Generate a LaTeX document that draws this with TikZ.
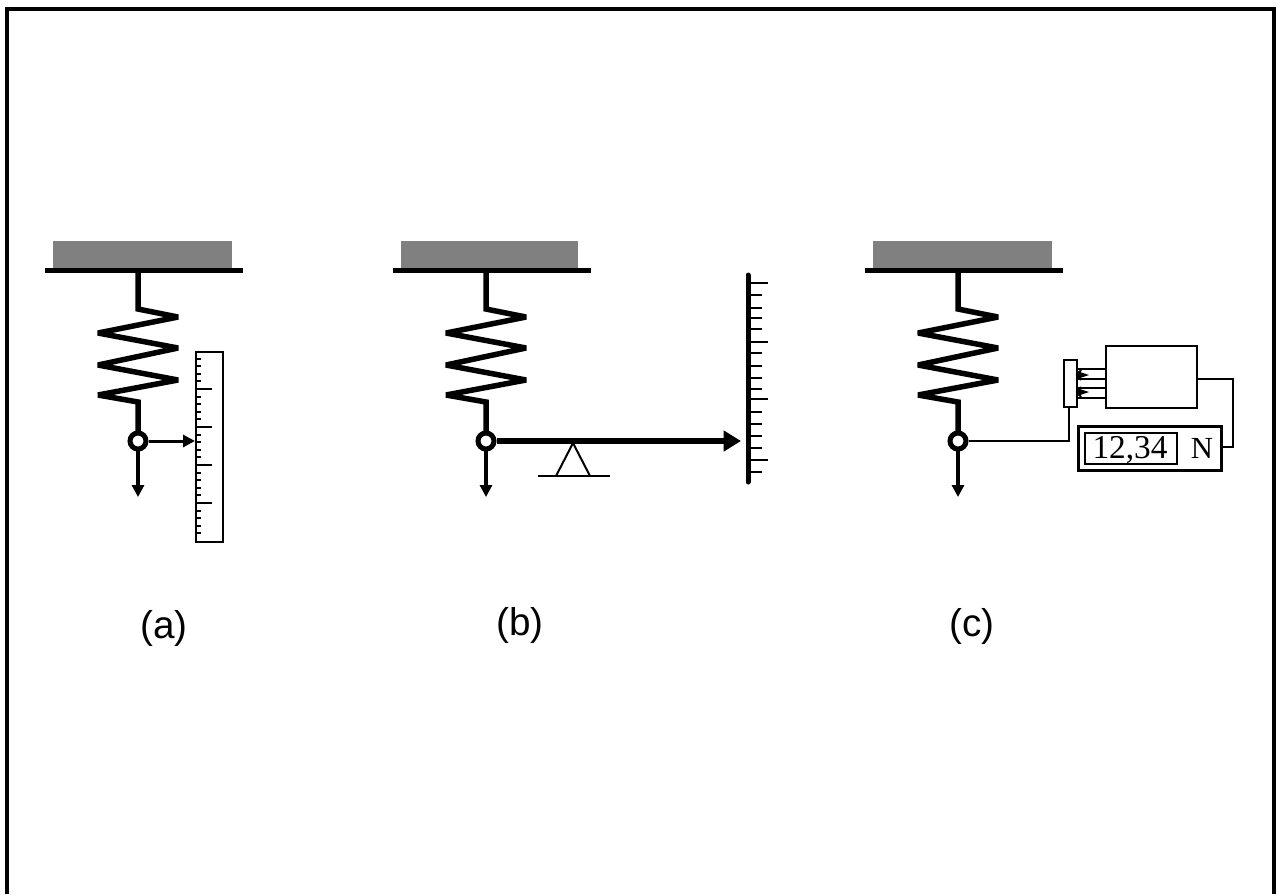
\documentclass[tikz,border=0pt]{standalone}
\usepackage{fontspec}
\setmainfont{Liberation Sans}
\newfontfamily\dispfont{Liberation Serif}
\usetikzlibrary{arrows.meta}
\definecolor{plategray}{RGB}{128,128,128}
\tikzset{
  x=0.75pt,y=-0.75pt,
  px/.style={line width=#1*0.75pt},
  spring/.style={px=5.5,line join=miter,miter limit=3},
  barline/.style={px=5},
  joint/.style={circle,draw,px=5,fill=white,minimum size=12pt,inner sep=0pt},
  headS/.style={-{Triangle[length=9pt,width=9pt]}},
  boxp/.style={draw,px=2,fill=white,inner sep=0pt},
  thin2/.style={px=2},
  lab/.style={font=\fontsize{29pt}{32pt}\selectfont,inner sep=0pt},
  disp/.style={font=\dispfont\fontsize{25pt}{28pt}\selectfont,inner sep=0pt},
  dispN/.style={font=\dispfont\fontsize{23pt}{24pt}\selectfont,inner sep=0pt}
}
\newcommand{\springat}[3]{%
  \fill[plategray] (#1-85,241) rectangle (#3,268);
  \draw[barline] (#1-93,270) -- (#1+105,270);
  \coordinate (#2top) at (#1,270);
  \coordinate (#2bot) at (#1,441);
  \coordinate (#2load) at (#1,497);
  \draw[spring] (#2top) -- (#1,309) -- (#1+40,317) -- (#1-40,333) -- (#1+40,348)
     -- (#1-40,365) -- (#1+40,380) -- (#1-40,395) -- (#1,402) -- (#2bot);
  \draw[px=3.5,headS] (#2bot) -- (#2load);
  \node[joint] (#2j) at (#2bot) {};
}
\begin{document}
\begin{tikzpicture}
\useasboundingbox (0,0) rectangle (1277,894);
\draw[px=4] (7,894) -- (7,9) -- (1273.5,9) -- (1273.5,894);

% (a)
\springat{138}{a}{232}
\node[boxp,minimum width=20.5pt,minimum height=142.5pt,anchor=north west] (ruler) at (195,351) {};
\foreach \i in {0,...,23}{
  \pgfmathsetmacro{\yy}{358.5+\i*7.6}
  \pgfmathtruncatemacro{\mm}{mod(\i,5)}
  \ifnum\mm=4
    \draw[px=2] (195,\yy) -- (212,\yy);
  \else
    \draw[px=2] (195,\yy) -- (201,\yy);
  \fi
}
\draw[px=3,-{Triangle[length=9pt,width=9pt]}] (aj) -- (ruler.west |- aj);

% (b)
\springat{486}{b}{578}
\coordinate (sA) at (748,275);
\coordinate (sB) at (748,482);
\draw[px=5,line cap=round] (sA) -- (sB);
\foreach \yy in {295,308,318,329,353,366,378,389,412,424,436,448,472}{
  \draw[px=2] (748,\yy) -- (762,\yy);
}
\foreach \yy in {283,342,399,460}{
  \draw[px=2] (748,\yy) -- (768,\yy);
}
\coordinate (ptip) at (741,441);
\draw[px=6,-{Triangle[length=13pt,width=15pt,inset=0pt]}] (bj) -- (ptip);
\coordinate (fA) at (573,443);
\coordinate (fB) at (556,476);
\coordinate (fC) at (590,476);
\draw[px=2] (fB) -- (fA) -- (fC);
\draw[px=2] (538,476) -- (610,476);

% (c)
\springat{958}{c}{1052}
\node[boxp,minimum width=9.75pt,minimum height=35.25pt,anchor=north west] (probe) at (1063,359) {};
\node[boxp,minimum width=68.25pt,minimum height=46.5pt,anchor=north west] (amp) at (1105,345) {};
\node[boxp,px=2.5,minimum width=107.25pt,minimum height=33pt,anchor=north west] (display) at (1077,425) {};
\node[boxp,minimum width=69pt,minimum height=23.25pt,anchor=north west] (readout) at (1084,432) {};
\node[disp,anchor=base] (val) at (1130,458) {12,34};
\node[dispN,anchor=base] (unit) at (1202,458) {N};
\draw[thin2] (cj) -- (1069,441) -- (probe.south -| 1069,0);
\foreach \yy in {369,379,388,398}{
  \draw[thin2] (probe.east |- 0,\yy) -- (amp.west |- 0,\yy);
}
\foreach \yy in {375,392}{
  \fill (1077,\yy-4) -- (1089,\yy) -- (1077,\yy+4) -- cycle;
  \draw[px=2] (1081,\yy-5) -- (1077,\yy) -- (1081,\yy+5);
}
\coordinate (w1) at (1233,379);
\coordinate (w2) at (1233,447);
\draw[thin2] (amp.east |- w1) -- (w1) -- (w2) -- (display.east |- w2);

% labels
\node[lab] (la) at (164,628) {(a)};
\node[lab] (lb) at (520,625) {(b)};
\node[lab] (lc) at (972,626) {(c)};
\end{tikzpicture}
\end{document}
